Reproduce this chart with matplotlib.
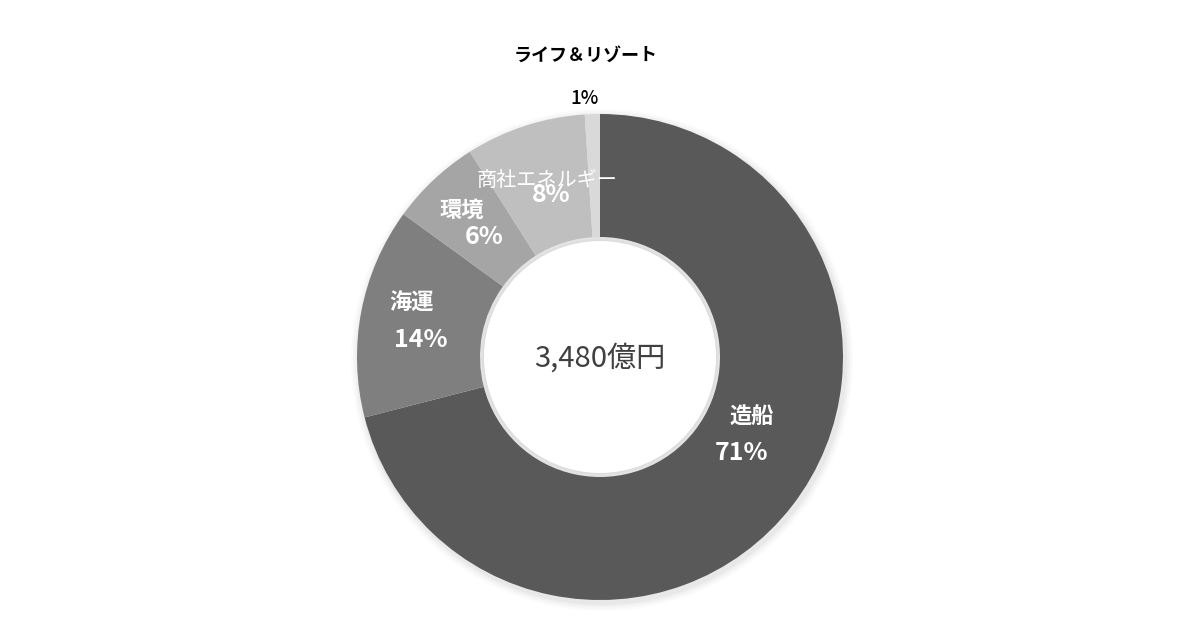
import matplotlib
matplotlib.use("Agg")
import matplotlib.pyplot as plt

plt.rcParams['font.family'] = ['Noto Sans CJK JP', 'DejaVu Sans']

# データ
segments = ["造船", "海運", "環境", "商社エネルギー", "ライフ＆リゾート"]
shares = [71, 14, 6, 8, 1]
total_label = "3,480億円"

colors = ["#595959", "#7f7f7f", "#a5a5a5", "#bfbfbf", "#d9d9d9"]

fig = plt.figure(figsize=(12, 6.3), dpi=100)
ax = fig.add_axes([0, 0, 1, 1])

cx, cy = 600, 357
R = 243
ring = 123

# 影（うっすら）
for i, a in enumerate([0.03, 0.025, 0.02, 0.015]):
    ax.add_patch(plt.Circle((cx + 2, cy + 3), R + 2 + i * 2, color='black', alpha=a, lw=0, zorder=0))

# y軸を反転しているので counterclock=True で時計回りに見える
ax.pie(shares, colors=colors, startangle=-90, counterclock=True,
       radius=R, center=(cx, cy), frame=True,
       wedgeprops=dict(width=ring, edgecolor='none', linewidth=0))
ax.set_xlim(0, 1200)
ax.set_ylim(630, 0)
ax.set_aspect('equal')
ax.axis('off')

# 内側の影（ごく薄く）
for i, a in enumerate([0.015, 0.015, 0.015]):
    ax.add_patch(plt.Circle((cx, cy), R - ring - i * 1.5, color='black', alpha=a, lw=0, zorder=3))
ax.add_patch(plt.Circle((cx, cy), R - ring - 4, color='white', lw=0, zorder=4))

ax.text(cx, cy + 2, total_label, ha='center', va='center', fontsize=21,
        color='#404040', zorder=5)

# ラベル（名前, %）の位置と書式
label_pos = [(752, 417, 742, 453), (412, 303, 421, 340), (462, 210, 484, 237),
             (547, 180, 551, 195), (586, 55, 585, 98)]
name_style = [(16, 'bold', 'white'), (16, 'bold', 'white'), (16, 'bold', 'white'),
              (14.5, 'normal', 'white'), (13, 'bold', 'black')]
pct_style = [(18, 'bold', 'white'), (18, 'bold', 'white'), (18, 'bold', 'white'),
             (18, 'bold', 'white'), (13.5, 'medium', 'black')]
for name, val, (x1, y1, x2, y2), ns, ps in zip(segments, shares, label_pos, name_style, pct_style):
    ax.text(x2, y2, f"{val}%", ha='center', va='center', fontsize=ps[0],
            fontweight=ps[1], color=ps[2], zorder=6)
    ax.text(x1, y1, name, ha='center', va='center', fontsize=ns[0],
            fontweight=ns[1], color=ns[2], zorder=7)

fig.savefig("out.png", dpi=100, facecolor='white')
